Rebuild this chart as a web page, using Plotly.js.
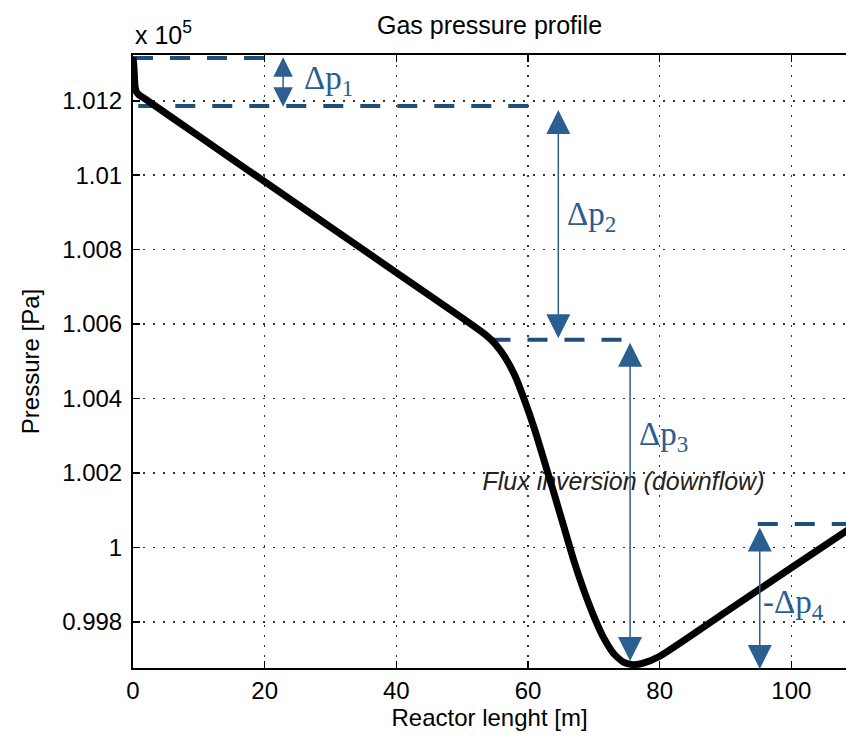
<!DOCTYPE html>
<html><head><meta charset="utf-8">
<script src="https://cdn.plot.ly/plotly-3.0.1.min.js"></script>
<style>html,body{margin:0;padding:0;background:#fff}#chart{width:846px;height:740px}</style>
</head><body><div id="chart"></div>
<script>
// Reactor length [m] and gas pressure [x 10^5 Pa]
const lengthM = [0, 0.1, 0.2, 0.3, 0.5, 0.9, 1.5, 10, 20, 30, 40, 48, 51.5, 53.5, 55.0, 56.5, 58.0, 59.5, 61.0, 62.5, 64.0, 65.5, 67.0, 68.5, 70.0, 71.5, 73.0, 74.5, 76.0, 77.5, 80, 90, 100, 110];
const pressure = [1.013176, 1.01300, 1.01270, 1.01240, 1.01225, 1.01216, 1.012089, 1.011050, 1.009828, 1.008606, 1.007385, 1.006407, 1.005980, 1.005720, 1.005470, 1.005110, 1.004620, 1.003940, 1.003170, 1.002300, 1.001420, 1.000520, 0.999620, 0.998840, 0.998150, 0.997570, 0.997150, 0.996920, 0.996850, 0.996890, 0.997076, 0.998263, 0.999453, 1.000634];

// reference levels (dashed) for the pressure drops
const levelValue = [1.013149, 1.011861, 1.005579, 1.00063];
const levelFrom  = [0, 0.8, 54.3, 94.9];
const levelTo    = [20.4, 61.4, 74.4, 110];

// pressure-drop arrows
const dpNames  = ['Δp<sub>1</sub>', 'Δp<sub>2</sub>', 'Δp<sub>3</sub>', '-Δp<sub>4</sub>'];
const dpX      = [22.8, 64.6, 75.5, 95.2];
const dpTop    = [1.013168, 1.011753, 1.005498, 1.000532];
const dpBottom = [1.011799, 1.005579, 0.996907, 0.996693];

const yTickVals  = [0.998, 1.000, 1.002, 1.004, 1.006, 1.008, 1.010, 1.012];
const yTickText  = ['0.998', '1', '1.002', '1.004', '1.006', '1.008', '1.01', '1.012'];
const xTickVals  = [0, 20, 40, 60, 80, 100];
const noteText   = 'Flux inversion (downflow)';

const blue = '#1f4e79';
const font = 'Arial, "Liberation Sans", sans-serif';
const serif = '"Times New Roman", "Liberation Serif", serif';

const traces = [];
// note text drawn under the curve
traces.push({x: [74.5], y: [1.00172], mode: 'text', text: [noteText], textposition: 'middle center',
  textfont: {family: font, size: 25, color: '#222', style: 'italic'}, hoverinfo: 'skip', showlegend: false});
for (let i = 0; i < levelValue.length; i++) {
  traces.push({x: [levelFrom[i], levelTo[i]], y: [levelValue[i], levelValue[i]], mode: 'lines',
    line: {color: blue, width: 4, dash: '20px,17px'}, hoverinfo: 'skip', showlegend: false});
}
traces.push({x: lengthM, y: pressure, mode: 'lines', line: {color: '#000', width: 7, shape: 'spline', smoothing: 0.6}, showlegend: false});

const annotations = [];
for (let i = 0; i < dpX.length; i++) {
  const hs = i === 0 ? 2.6 : 3.2;
  annotations.push({x: dpX[i], y: dpTop[i], ax: dpX[i], ay: dpBottom[i], xref: 'x', yref: 'y', axref: 'x', ayref: 'y',
    text: '', showarrow: true, arrowhead: 2, arrowsize: hs, arrowwidth: 1.5, arrowcolor: '#2b5f92',
    arrowside: 'end+start', startarrowhead: 2, startarrowsize: hs, standoff: 0, startstandoff: 0});
}
const labelPos = [[25.6, 1.012558], [65.6, 1.008881], [76.5, 1.002974], [95.4, 0.998464]];
for (let i = 0; i < dpNames.length; i++) {
  annotations.push({x: labelPos[i][0], y: labelPos[i][1], xref: 'x', yref: 'y', xanchor: 'left', yanchor: 'middle',
    text: dpNames[i], showarrow: false, font: {family: serif, size: 33, color: '#2a5d8f'}});
}
annotations.push({x: 0, y: 1, xref: 'paper', yref: 'paper', xanchor: 'left', yanchor: 'bottom', yshift: 4,
  text: 'x 10<sup>5</sup>', showarrow: false, font: {family: font, size: 25, color: '#000'}});

const layout = {
  width: 846, height: 740,
  margin: {l: 133, r: 0, t: 55, b: 72},
  paper_bgcolor: '#fff', plot_bgcolor: '#fff',
  title: {text: 'Gas pressure profile', font: {family: font, size: 25, color: '#000'},
    xref: 'paper', x: 0.5, yref: 'container', y: 1 - 25/740, yanchor: 'middle'},
  xaxis: {range: [0, 108.3], tickvals: xTickVals, ticks: 'inside', ticklen: 7, tickwidth: 1.5, tickcolor: '#000',
    showline: true, linecolor: '#000', linewidth: 2, mirror: 'ticks', zeroline: false,
    showgrid: true, gridcolor: '#333', gridwidth: 1.5, griddash: '2px,8px',
    tickfont: {family: font, size: 24, color: '#000'},
    title: {text: 'Reactor lenght [m]', font: {family: font, size: 24, color: '#000'}, standoff: 4}},
  yaxis: {range: [0.99676, 1.01323], tickvals: yTickVals, ticktext: yTickText, ticks: 'inside', ticklen: 7, tickwidth: 1.5, tickcolor: '#000',
    showline: true, linecolor: '#000', linewidth: 2, mirror: false, zeroline: false,
    showgrid: true, gridcolor: '#333', gridwidth: 1.5, griddash: '2px,8px',
    tickfont: {family: font, size: 24, color: '#000'}, ticklabelstandoff: 4,
    title: {text: 'Pressure [Pa]', font: {family: font, size: 24, color: '#000'}, standoff: 16}},
  annotations: annotations,
  showlegend: false
};
Plotly.newPlot('chart', traces, layout, {displayModeBar: false, staticPlot: true});
</script></body></html>
